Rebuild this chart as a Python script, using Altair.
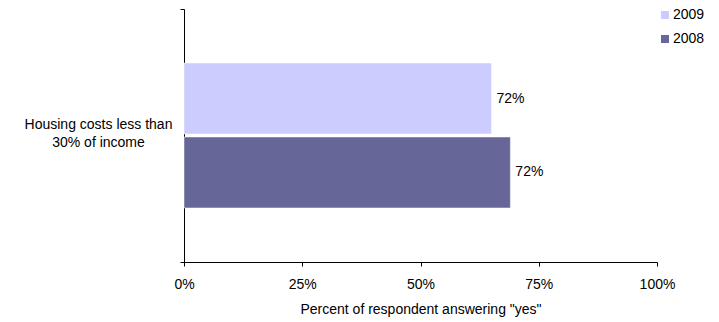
import altair as alt
import pandas as pd

categories = ["Housing costs less than|30% of income"]
years = ["2009", "2008"]
values = [65, 69]
labels = ["72%", "72%"]
colors = ["#CCCCFF", "#666699"]

df = pd.DataFrame({
    "category": [categories[0]] * len(years),
    "year": years,
    "value": values,
    "label": labels,
})

FONT = "Liberation Sans"
FS = 14

y_enc = alt.Y("category:N", title=None,
              scale=alt.Scale(paddingInner=0, paddingOuter=0),
              axis=alt.Axis(labelExpr="split(datum.label, '|')", labelAlign="center",
                            labelBaseline="middle", labelPadding=82, labelLineHeight=18,
                            labelOffset=-11,
                            labelFont=FONT, labelFontSize=FS, labelColor="#000000",
                            tickBand="extent", tickSize=4, tickColor="#000000",
                            domainColor="#000000", labelLimit=300))
yoff = alt.YOffset("year:N", sort=years,
                   scale=alt.Scale(paddingInner=0.04, paddingOuter=0.73))

bars = alt.Chart(df).mark_bar(stroke="#FFFFFF", strokeWidth=0.5).encode(
    x=alt.X("value:Q", title='Percent of respondent answering "yes"',
            scale=alt.Scale(domain=[0, 100]),
            axis=alt.Axis(values=[0, 25, 50, 75, 100], labelExpr="datum.value + '%'",
                          grid=False, tickSize=4, tickColor="#000000", domainColor="#000000",
                          labelFlush=False,
                          labelFont=FONT, labelFontSize=FS, labelColor="#000000",
                          labelPadding=11, titleFont=FONT, titleFontSize=FS,
                          titleFontWeight="normal", titleColor="#000000", titlePadding=11)),
    y=y_enc,
    yOffset=yoff,
    color=alt.Color("year:N", sort=years,
                    scale=alt.Scale(domain=years, range=colors),
                    legend=alt.Legend(title=None, orient="none", legendX=474, legendY=-1,
                                      symbolType="square", symbolSize=64,
                                      symbolStrokeWidth=0, labelFont=FONT,
                                      labelFontSize=FS, labelColor="#000000",
                                      rowPadding=10, labelOffset=1)),
)

text = alt.Chart(df).mark_text(align="left", baseline="middle", dx=5,
                               font=FONT, fontSize=FS, color="#000000").encode(
    x="value:Q",
    y=alt.Y("category:N"),
    yOffset=alt.YOffset("year:N", sort=years),
    text="label:N",
)

chart = (bars + text).properties(
    width=473, height=253,
    background="#FFFFFF",
    autosize=alt.AutoSizeParams(type="none"),
    padding={"left": 184, "top": 9, "right": 62, "bottom": 60},
).configure_view(stroke=None)

chart.save("out.html", embed_options={"renderer": "svg", "actions": False})
